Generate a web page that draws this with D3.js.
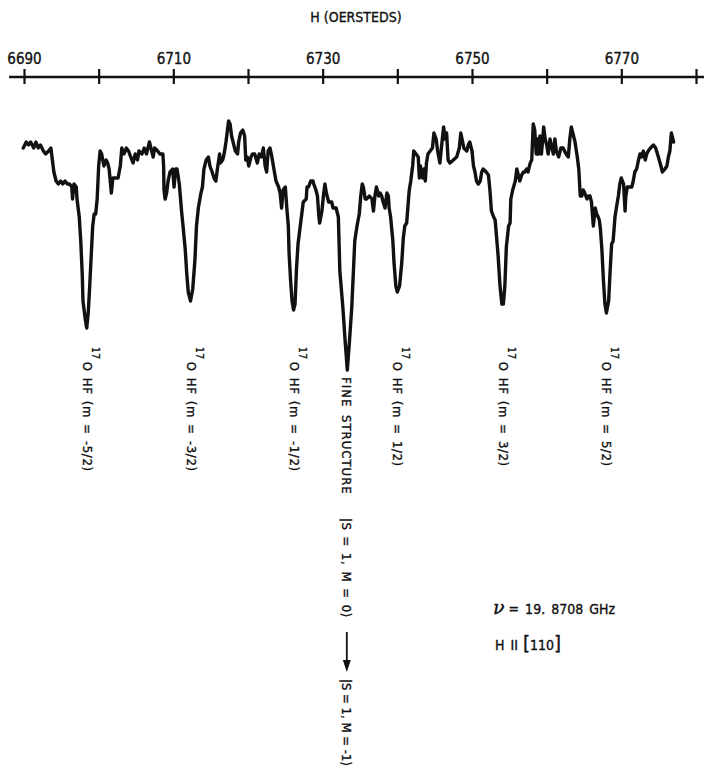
<!DOCTYPE html>
<html>
<head>
<meta charset="utf-8">
<script src="https://cdn.jsdelivr.net/npm/d3@7/dist/d3.min.js"></script>
<style>
  html, body { margin: 0; padding: 0; background: #fff; }
  svg { display: block; }
  .lbl { font-family: "Liberation Sans Narrow", "DejaVu Sans Condensed", "Roboto Condensed", "Liberation Sans", sans-serif; fill: #111; stroke: #111; stroke-width: 0.35; }
</style>
</head>
<body>
<svg id="chart" width="704" height="778"></svg>
<script>
// ---------- data ----------
const axisTitle = "H (OERSTEDS)";
const tickValues = [6690, 6700, 6710, 6720, 6730, 6740, 6750, 6760, 6770, 6780];
const tickLabels = ["6690", "", "6710", "", "6730", "", "6750", "", "6770", ""];
const axisExtent = [6688, 6781.2];

const fieldH = [
6689.9,6690.3,6690.6,6690.9,6691.3,6691.6,6691.9,6692.2,6692.6,6692.9,
6693.3,6693.6,6693.8,6694.0,6694.3,6694.6,6694.9,6695.2,6695.5,6695.8,
6696.1,6696.4,6696.5,6696.7,6697.0,6697.1,6697.4,6697.6,6697.8,6697.9,
6698.2,6698.4,6698.6,6698.8,6699.0,6699.2,6699.4,6699.6,6699.8,6700.0,
6700.2,6700.4,6700.7,6701.0,6701.2,6701.4,6701.7,6701.9,6702.2,6702.6,
6702.9,6703.1,6703.4,6703.7,6704.0,6704.3,6704.6,6704.9,6705.2,6705.4,
6705.8,6706.1,6706.4,6706.8,6707.1,6707.3,6707.5,6707.9,6708.2,6708.6,
6708.7,6708.75,6708.9,6709.1,6709.3,6709.55,6709.9,6710.1,6710.3,6710.5,
6710.8,6711.1,6711.3,6711.6,6711.8,6712.0,6712.3,6712.6,6712.9,6713.1,
6713.35,6713.7,6713.9,6714.1,6714.4,6714.7,6714.9,6715.2,6715.45,6715.7,
6715.9,6716.2,6716.3,6716.6,6716.8,6717.05,6717.2,6717.4,6717.6,6717.8,
6718.0,6718.3,6718.6,6718.75,6719.0,6719.3,6719.55,6719.7,6719.9,6720.1,
6720.4,6720.6,6720.9,6721.25,6721.5,6721.8,6722.05,6722.3,6722.5,6722.7,
6722.95,6723.2,6723.4,6723.75,6724.1,6724.3,6724.5,6724.7,6725.0,6725.2,
6725.4,6725.5,6725.7,6725.9,6726.1,6726.3,6726.5,6726.7,6727.0,6727.2,
6727.4,6727.8,6727.9,6728.1,6728.4,6728.7,6728.8,6729.1,6729.3,6729.5,
6729.6,6729.9,6730.1,6730.3,6730.5,6730.8,6731.0,6731.2,6731.4,6731.8,
6732.1,6732.3,6732.7,6733.0,6733.3,
6733.6,6733.9,6734.1,6734.3,6734.6,6734.9,6735.1,6735.3,6735.45,6735.7,
6735.9,6736.25,6736.6,6736.8,6737.0,6737.2,6737.5,6737.7,6737.9,6738.1,
6738.35,6738.6,6738.8,6738.9,6739.1,6739.4,6739.55,6739.8,6740.0,6740.3,
6740.6,6740.8,6741.0,6741.25,6741.5,6741.6,6741.8,6742.05,6742.2,6742.5,
6742.8,6742.95,6743.1,6743.4,6743.6,6743.75,6743.9,6744.1,6744.4,6744.7,
6744.9,6745.2,6745.4,6745.7,6745.9,6746.2,6746.4,6746.6,6746.8,6747.05,
6747.5,6747.95,6748.3,6748.5,6748.75,6748.9,6749.3,6749.5,6749.7,6750.0,
6750.2,6750.4,6750.6,6750.85,6751.1,6751.3,6751.5,6751.9,6752.2,6752.4,
6752.6,6752.9,6753.1,6753.3,6753.5,6753.75,6754.0,6754.2,6754.4,6754.6,
6754.9,6755.1,6755.2,6755.45,6755.8,6756.0,6756.2,6756.4,6756.65,6756.9,
6757.1,6757.3,6757.5,6757.8,6758.0,6758.2,6758.4,6758.6,6758.75,6758.9,
6759.1,6759.3,6759.6,6759.8,6760.0,6760.2,6760.45,6760.7,6760.9,6761.1,
6761.3,6761.6,6761.9,6762.2,6762.6,6762.9,6763.1,6763.3,6763.5,6763.8,
6764.1,6764.3,6764.5,6764.7,6764.9,6765.1,6765.4,6765.6,6765.8,6766.0,
6766.25,6766.5,6766.7,6766.9,6767.05,6767.2,6767.4,6767.6,6767.8,6768.0,
6768.3,6768.5,6768.7,6768.9,6769.15,6769.4,6769.6,6769.8,6770.0,6770.3,
6770.5,6770.6,6770.8,6771.1,6771.4,6771.6,6771.8,6772.05,6772.3,6772.5,
6772.7,6772.95,6773.2,6773.4,6773.6,6773.9,6774.3,6774.6,6774.96,6775.3,
6775.5,6775.85,6776.1,6776.3,6776.5,6776.7,6777.0
];

const signal = [
84,86,85,86,84,86,84,85,83,82,
83,84,80,76,73,72,73,72,73,72,
72,71,67,72,71,67,61,53,42,33,
27,24,29,38,48,58,62,62,67,78,
83,82,78,80,79,77,69,74,74,74,
78,84,82,84,83,81,79,82,80,83,
82,84,82,86,83,81,84,83,82,82,
78,70,67,69,73,76,77,71,77,77,
72,63,58,50,42,36,33,37,47,58,
64,69,71,77,80,81,78,76,74,73,
77,82,79,80,82,86,89,93,92,88,
86,83,82,86,89,90,88,80,81,78,
81,82,82,79,82,81,84,78,76,83,
84,81,78,73,71,69,64,70,71,64,
58,49,40,33,30,32,44,52,58,62,
66,67,71,71,73,73,72,70,68,61,
59,63,68,72,69,66,66,66,64,64,
61,43,31,20,10,
20,31,42,53,58,62,68,72,71,67,
67,68,67,63,68,71,68,69,68,66,
64,69,68,64,61,53,46,38,36,38,
46,54,58,59,67,70,73,78,83,82,
81,74,78,74,77,73,79,82,83,84,
89,87,83,79,84,91,87,89,80,79,
80,81,84,89,86,84,83,85,86,83,
78,76,73,72,73,76,77,76,75,70,
63,61,60,54,48,38,32,32,38,51,
58,59,67,70,73,77,75,73,75,76,
76,77,76,79,80,92,90,82,87,82,
88,82,91,87,85,82,87,84,82,87,
83,81,84,84,82,81,87,91,89,86,
81,77,68,68,70,69,67,68,68,66,
58,64,62,61,60,57,50,40,32,29,
33,43,52,53,61,65,68,72,74,72,
63,68,71,71,71,73,76,77,80,82,
81,83,80,82,83,84,85,84,81,78,
76,77,78,81,83,89,86
];

// line assignments
const hfLineH = [6698.4, 6712.3, 6726.1, 6740.0, 6754.1, 6768.0];
const hfLabels = ["(m = -5/2)", "(m = -3/2)", "(m = -1/2)", "(m = 1/2)", "(m = 3/2)", "(m = 5/2)"];
const fsLineH = 6733.3;
const fsParts = ["FINE STRUCTURE", "|S = 1, M = 0\u27E9", "|S = 1, M = -1\u27E9"];
const freqText = "= 19. 8708  GHz";
const orientText = "110";

// ---------- drawing ----------
const svg = d3.select("#chart");
const x = d3.scaleLinear().domain([6690, 6780]).range([24, 696]);
const y = d3.scaleLinear().domain([0, 100]).range([400, 100]);
const axisY = 77;
const FONT = '"Liberation Sans Narrow", "DejaVu Sans Condensed", "Roboto Condensed", "Liberation Sans", sans-serif';

// title
svg.append("text").attr("class", "lbl")
  .attr("x", 356).attr("y", 22).attr("text-anchor", "middle")
  .attr("font-size", 14).attr("letter-spacing", 0)
  .text(axisTitle);

// axis
const axis = d3.axisTop(x).tickValues(tickValues).tickSize(0)
  .tickFormat((d, i) => tickLabels[i]);
const gAx = svg.append("g").attr("transform", `translate(0,${axisY})`).call(axis);
gAx.select(".domain").remove();
gAx.append("line")
  .attr("x1", x(axisExtent[0])).attr("x2", x(axisExtent[1]))
  .attr("y1", 0).attr("y2", 0)
  .attr("stroke", "#111").attr("stroke-width", 2.4);
gAx.selectAll(".tick line")
  .attr("y1", -8).attr("y2", 7).attr("stroke", "#111").attr("stroke-width", 2.2);
gAx.selectAll(".tick text")
  .attr("y", -13).attr("dy", 0)
  .attr("font-family", FONT).attr("font-size", 15)
  .attr("fill", "#111").attr("stroke", "#111").attr("stroke-width", 0.35);

// spectrum
const pts = fieldH.map((h, i) => [h, signal[i]]);
const line = d3.line().x(d => x(d[0])).y(d => y(d[1])).curve(d3.curveLinear);
svg.append("path").datum(pts)
  .attr("d", line)
  .attr("fill", "none").attr("stroke", "#111")
  .attr("stroke-width", 3.4).attr("stroke-linejoin", "round").attr("stroke-linecap", "round");

// HF labels (rotated)
hfLineH.forEach((h, i) => {
  const g = svg.append("g").attr("transform", `translate(${x(h) - 4},347) rotate(90)`);
  const t = g.append("text").attr("class", "lbl").attr("font-size", 13)
    .attr("letter-spacing", 0.6).attr("word-spacing", 2);
  t.append("tspan").attr("font-size", 10).attr("dy", -9).text("17");
  t.append("tspan").attr("dy", 9).attr("dx", 2).text("O HF " + hfLabels[i]);
});

// fine-structure label
{
  const g = svg.append("g").attr("transform", `translate(${x(fsLineH) - 5},377) rotate(90)`);
  const t = g.append("text").attr("class", "lbl").attr("font-size", 13);
  t.append("tspan").attr("x", 0).attr("letter-spacing", 1).attr("word-spacing", 3).text(fsParts[0]);
  t.append("tspan").attr("x", 141).attr("letter-spacing", 0.5).attr("word-spacing", 2).text(fsParts[1]);
  t.append("tspan").attr("x", 302).attr("letter-spacing", 0).attr("word-spacing", 0).text(fsParts[2]);
  g.append("line").attr("x1", 255).attr("x2", 288).attr("y1", -4.5).attr("y2", -4.5)
    .attr("stroke", "#111").attr("stroke-width", 1.8);
  g.append("path").attr("d", "M283,-8.5 L295,-4.5 L283,-0.5 Z").attr("fill", "#111");
}

// annotations
{
  const t = svg.append("text").attr("class", "lbl").attr("x", 493).attr("y", 614).attr("font-size", 14);
  t.append("tspan").attr("font-family", '"DejaVu Serif", "Liberation Serif", serif')
    .attr("font-style", "italic").attr("font-size", 19).text("\u03BD");
  t.append("tspan").attr("dx", 4).attr("word-spacing", 2).text(freqText);

  const t2 = svg.append("text").attr("class", "lbl").attr("x", 495).attr("y", 650).attr("font-size", 14);
  t2.append("tspan").text("H");
  t2.append("tspan").attr("dx", 6).text("II");
  t2.append("tspan").attr("dx", 5).attr("font-size", 20).text("[");
  t2.append("tspan").attr("dx", 0).text(orientText);
  t2.append("tspan").attr("dx", 0).attr("font-size", 20).text("]");
}
</script>
</body>
</html>
